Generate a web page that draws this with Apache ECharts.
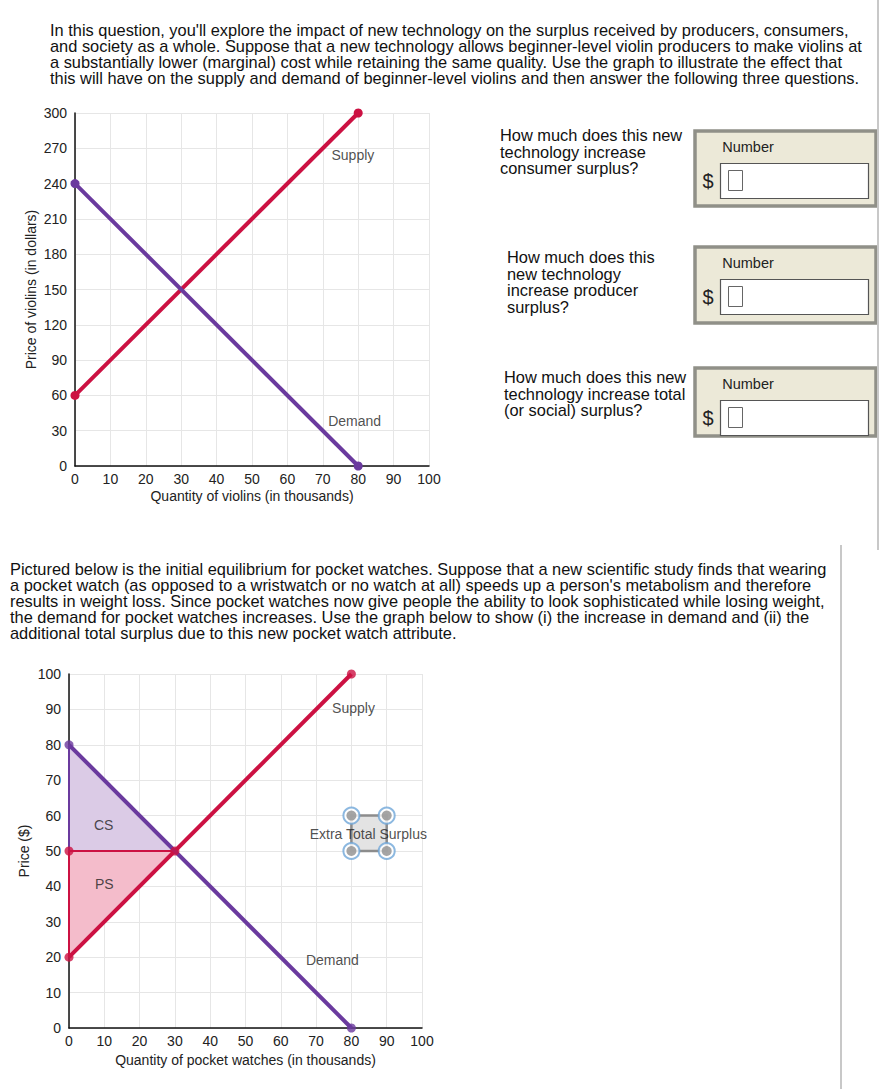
<!DOCTYPE html>
<html><head><meta charset="utf-8">
<script src="https://cdn.jsdelivr.net/npm/echarts@6/dist/echarts.min.js"></script>
<style>html,body{margin:0;padding:0;background:#fff}#c{width:880px;height:1089px}</style>
</head><body><div id="c"></div>
<script>
// ---- data ----
const violinSupply = [[0, 60], [80, 300]];
const violinDemand = [[0, 240], [80, 0]];
const violinLabels = [{ name: 'Supply', value: [78.5, 264] }, { name: 'Demand', value: [79, 38] }];

const watchSupply = [[0, 20], [80, 100]];
const watchDemand = [[0, 80], [80, 0]];
const watchPriceLine = [[0, 50], [30, 50]];
const csEdge = [[0, 80], [0, 50]];
const psEdge = [[0, 50], [0, 20]];
const csArea = [[0, 80], [0, 50], [30, 50]];
const psArea = [[0, 50], [0, 20], [30, 50]];
const redDots = [[0, 50], [0, 20], [30, 50], [80, 100]];
const purpleDots = [[0, 80], [80, 0]];
const extraBox = [[80, 60], [90, 50]];
const extraHandles = [[80, 60], [90, 60], [80, 50], [90, 50]];
const watchLabels = [
  { name: 'CS', value: [9.8, 57.3] },
  { name: 'PS', value: [10, 40.6] },
  { name: 'Supply', value: [80.6, 90.5] },
  { name: 'Demand', value: [74.6, 19.2] },
  { name: 'Extra Total Surplus', value: [84.8, 54.7] }
];

const para1 = [
  "In this question, you'll explore the impact of new technology on the surplus received by producers, consumers,",
  "and society as a whole. Suppose that a new technology allows beginner-level violin producers to make violins at",
  "a substantially lower (marginal) cost while retaining the same quality. Use the graph to illustrate the effect that",
  "this will have on the supply and demand of beginner-level violins and then answer the following three questions."
];
const para2 = [
  "Pictured below is the initial equilibrium for pocket watches. Suppose that a new scientific study finds that wearing",
  "a pocket watch (as opposed to a wristwatch or no watch at all) speeds up a person's metabolism and therefore",
  "results in weight loss. Since pocket watches now give people the ability to look sophisticated while losing weight,",
  "the demand for pocket watches increases. Use the graph below to show (i) the increase in demand and (ii) the",
  "additional total surplus due to this new pocket watch attribute."
];
const questions = [
  ["How much does this new", "technology increase", "consumer surplus?"],
  ["How much does this", "new technology", "increase producer", "surplus?"],
  ["How much does this new", "technology increase total", "(or social) surplus?"]
];

// ---- styles ----
const FONT = "'Liberation Sans', Arial, sans-serif";
const RED = '#cc1142';
const PURPLE = '#6a3a9e';
const GRIDC = '#e6e6e6';
const TXT = '16.4px ' + FONT;

function xAxisCfg(grid, name, gap) {
  return {
    gridIndex: grid, type: 'value', min: 0, max: 100, interval: 10,
    name: name, nameLocation: 'middle', nameGap: gap,
    nameTextStyle: { fontFamily: FONT, fontSize: 14, color: '#222' },
    axisLine: { lineStyle: { color: '#111', width: 1.5 } },
    axisTick: { show: false },
    axisLabel: { fontFamily: FONT, fontSize: 14, color: '#222', margin: 6 },
    splitLine: { show: true, lineStyle: { color: GRIDC } }
  };
}
function yAxisCfg(grid, max, interval, name, gap) {
  return {
    gridIndex: grid, type: 'value', min: 0, max: max, interval: interval,
    name: name, nameLocation: 'middle', nameGap: gap,
    nameTextStyle: { fontFamily: FONT, fontSize: 14, color: '#222' },
    axisLine: { show: true, lineStyle: { color: '#111', width: 1.5 } },
    axisTick: { show: false },
    axisLabel: { fontFamily: FONT, fontSize: 14, color: '#222', margin: 8 },
    splitLine: { show: true, lineStyle: { color: GRIDC } }
  };
}
function lineSeries(xi, data, color, width, dots) {
  return {
    type: 'line', xAxisIndex: xi, yAxisIndex: xi, data: data,
    showSymbol: dots, symbol: 'circle', symbolSize: 9,
    itemStyle: { color: color }, lineStyle: { color: color, width: width },
    silent: true, animation: false, z: 3
  };
}
function polySeries(xi, pts, fill, z) {
  return {
    type: 'custom', xAxisIndex: xi, yAxisIndex: xi, data: [0], z: z, silent: true, animation: false,
    renderItem: function (params, api) {
      return { type: 'polygon', shape: { points: pts.map(p => api.coord(p)) }, style: { fill: fill } };
    }
  };
}
function labelSeries(xi, data) {
  return {
    type: 'scatter', xAxisIndex: xi, yAxisIndex: xi, data: data, symbolSize: 0, z: 10,
    silent: true, animation: false,
    label: { show: true, position: 'inside', formatter: '{b}', fontFamily: FONT, fontSize: 14, color: '#222' }
  };
}

const graphic = [];
graphic.push({ type: 'text', left: 50, top: 22, style: { text: para1.join('\n'), font: TXT, fill: '#111', lineHeight: 16 } });
graphic.push({ type: 'text', left: 10, top: 561, style: { text: para2.join('\n'), font: TXT, fill: '#111', lineHeight: 16 } });
const qPos = [[500, 127], [507, 249], [504, 369]];
const boxY = [[131, 75], [247, 76], [368, 68]];
questions.forEach((q, i) => {
  graphic.push({ type: 'text', left: qPos[i][0], top: qPos[i][1], style: { text: q.join('\n'), font: TXT, fill: '#111', lineHeight: 16.5 } });
  const by = boxY[i][0], bh = boxY[i][1];
  graphic.push({ type: 'rect', shape: { x: 695, y: by, width: 181, height: bh }, style: { fill: '#ece9d8', stroke: '#909088', lineWidth: 3.5 } });
  graphic.push({ type: 'text', style: { text: 'Number', x: 748, y: by + 16, font: '14.5px ' + FONT, fill: '#222', textAlign: 'center', textVerticalAlign: 'middle' } });
  const iy = by + 32;
  graphic.push({ type: 'text', style: { text: '$', x: 708, y: iy + 18, font: '20px ' + FONT, fill: '#222', textAlign: 'center', textVerticalAlign: 'middle' } });
  graphic.push({ type: 'rect', shape: { x: 720.5, y: iy + 0.5, width: 148, height: 35 }, style: { fill: '#fff', stroke: '#555', lineWidth: 1.2 } });
  graphic.push({ type: 'rect', shape: { x: 728.5, y: iy + 7.5, width: 14, height: 20 }, style: { fill: '#fff', stroke: '#666', lineWidth: 1 } });
});
graphic.push({ type: 'line', shape: { x1: 878, y1: 0, x2: 878, y2: 550 }, style: { stroke: '#c8c8c8', lineWidth: 2 } });
graphic.push({ type: 'line', shape: { x1: 841, y1: 545, x2: 841, y2: 1089 }, style: { stroke: '#c8c8c8', lineWidth: 2 } });

const option = {
  animation: false,
  backgroundColor: '#fff',
  grid: [
    { left: 75, top: 113, width: 354, height: 353 },
    { left: 69, top: 674, width: 353, height: 354 }
  ],
  xAxis: [
    xAxisCfg(0, 'Quantity of violins (in thousands)', 23),
    xAxisCfg(1, 'Quantity of pocket watches (in thousands)', 25)
  ],
  yAxis: [
    yAxisCfg(0, 300, 30, 'Price of violins (in dollars)', 37),
    yAxisCfg(1, 100, 10, 'Price ($)', 38)
  ],
  graphic: graphic,
  series: [
    lineSeries(0, violinSupply, RED, 4, true),
    lineSeries(0, violinDemand, PURPLE, 4, true),
    labelSeries(0, violinLabels),

    polySeries(1, csArea, '#dbcbe6', 1),
    polySeries(1, psArea, '#f4bccb', 1),
    {
      type: 'custom', xAxisIndex: 1, yAxisIndex: 1, data: [0], z: 2, silent: true, animation: false,
      renderItem: function (params, api) {
        const a = api.coord(extraBox[0]), b = api.coord(extraBox[1]);
        return { type: 'rect', shape: { x: a[0], y: a[1], width: b[0] - a[0], height: b[1] - a[1] }, style: { fill: '#e3e3e3', stroke: '#8c8c8c', lineWidth: 2.5 } };
      }
    },
    lineSeries(1, csEdge, PURPLE, 2, false),
    lineSeries(1, psEdge, RED, 2, false),
    lineSeries(1, watchPriceLine, RED, 2, false),
    lineSeries(1, watchSupply, RED, 4, false),
    lineSeries(1, watchDemand, PURPLE, 4, false),
    { type: 'scatter', xAxisIndex: 1, yAxisIndex: 1, data: redDots, symbolSize: 9, itemStyle: { color: RED }, z: 5, silent: true, animation: false },
    { type: 'scatter', xAxisIndex: 1, yAxisIndex: 1, data: purpleDots, symbolSize: 9, itemStyle: { color: PURPLE }, z: 5, silent: true, animation: false },
    { type: 'scatter', xAxisIndex: 1, yAxisIndex: 1, data: extraHandles, symbolSize: 16, itemStyle: { color: '#fff', borderColor: '#6fa6d8', borderWidth: 2 }, z: 6, silent: true, animation: false },
    { type: 'scatter', xAxisIndex: 1, yAxisIndex: 1, data: extraHandles, symbolSize: 10, itemStyle: { color: '#8f8f8f' }, z: 7, silent: true, animation: false },
    labelSeries(1, watchLabels)
  ]
};
const chart = echarts.init(document.getElementById('c'), null, { renderer: 'svg' });
chart.setOption(option);
</script>
</body></html>
